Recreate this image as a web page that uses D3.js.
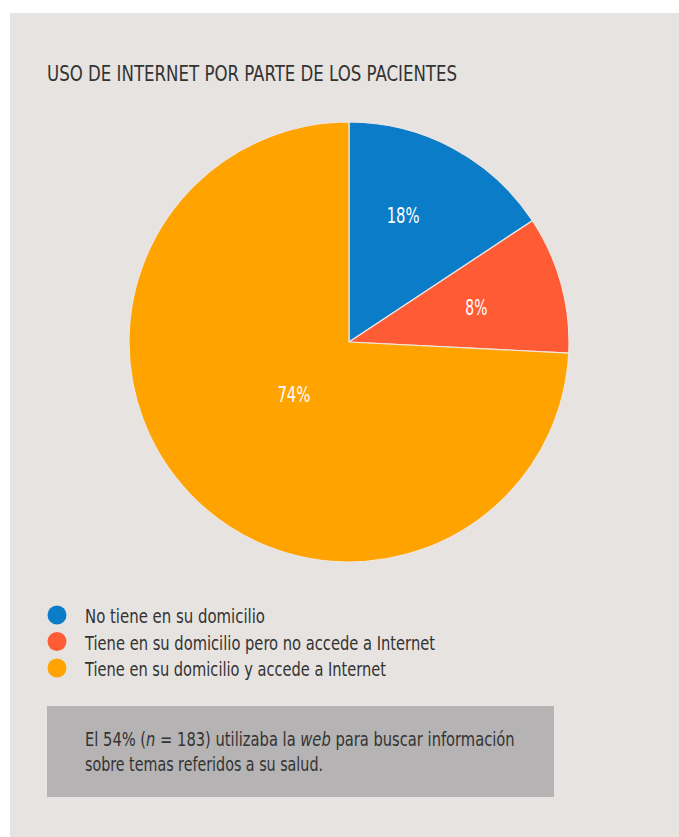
<!DOCTYPE html>
<html>
<head>
<meta charset="utf-8">
<script src="https://cdn.jsdelivr.net/npm/d3@7"></script>
<style>
  body { margin: 0; background: #fff; }
  svg text { font-family: "DejaVu Sans Condensed", "DejaVu Sans", sans-serif; font-stretch: condensed; }
</style>
</head>
<body>
<div id="chart"></div>
<script>
// Data
const categories = [
    "No tiene en su domicilio",
    "Tiene en su domicilio pero no accede a Internet",
    "Tiene en su domicilio y accede a Internet"
];
const shares = [15.7, 10.1, 74.2];          // slice sizes as drawn
const labels = ["18%", "8%", "74%"];         // printed percentages
const colors = ["#0b7dc8", "#ff5c35", "#ffa300"];

const W = 679, H = 837;
const svg = d3.select("#chart").append("svg")
    .attr("width", W)
    .attr("height", H);

// squeeze a text node to the width seen in the reference (narrow font)
function fit(sel, w) {
    sel.attr("textLength", w).attr("lengthAdjust", "spacingAndGlyphs");
}

// panel background
svg.append("rect")
    .attr("x", 10).attr("y", 13)
    .attr("width", W - 10).attr("height", H - 13)
    .attr("fill", "#e7e3e0");

// title
svg.append("text")
    .attr("x", 47).attr("y", 81)
    .attr("fill", "#333")
    .style("font-size", "21px")
    .text("USO DE INTERNET POR PARTE DE LOS PACIENTES")
    .call(fit, 410);

// pie
const cx = 349, cy = 342, r = 220;
const data = categories.map((c, i) => ({ name: c, value: shares[i], label: labels[i], color: colors[i] }));

const pie = d3.pie().sort(null).value(d => d.value);
const arc = d3.arc().innerRadius(0).outerRadius(r);

const g = svg.append("g").attr("transform", `translate(${cx},${cy})`);
const arcs = pie(data);

g.selectAll("path")
    .data(arcs)
    .enter()
    .append("path")
    .attr("d", arc)
    .attr("fill", d => d.data.color)
    .attr("stroke", "#eee6e2")
    .attr("stroke-width", 1.2);

// labels: small slices further out, the big slice nearer the centre
g.selectAll("text.lbl")
    .data(arcs)
    .enter()
    .append("text")
    .attr("class", "lbl")
    .attr("transform", d => {
        const lr = d.data.value > 50 ? 76 : (d.index === 0 ? 138 : 132);
        const a = (d.startAngle + d.endAngle) / 2 - (d.index === 0 ? 0.09 : 0);
        return `translate(${Math.sin(a) * lr},${-Math.cos(a) * lr})`;
    })
    .attr("text-anchor", "middle")
    .attr("dy", "0.35em")
    .attr("fill", "#fff")
    .style("font-size", "22px")
    .text(d => d.data.label)
    .each(function () { fit(d3.select(this), this.textContent.length * 11); });

// legend
const legendWidths = [180, 350, 301];
const legend = svg.append("g").attr("transform", "translate(57,615)");
const rows = legend.selectAll("g")
    .data(data)
    .enter()
    .append("g")
    .attr("transform", (d, i) => `translate(0,${i * 26.5})`);

rows.append("circle")
    .attr("r", 9.5)
    .attr("fill", d => d.color);

rows.append("text")
    .attr("x", 28)
    .attr("y", 8)
    .attr("fill", "#333")
    .style("font-size", "20px")
    .text(d => d.name)
    .each(function (d, i) { fit(d3.select(this), legendWidths[i]); });

// note box
svg.append("rect")
    .attr("x", 47).attr("y", 706)
    .attr("width", 507).attr("height", 91)
    .attr("fill", "#b5b3b3");

// first note line has italic runs, so squeeze it with a scale instead of textLength
const noteG = svg.append("g");
const note1 = noteG.append("text")
    .attr("fill", "#333")
    .style("font-size", "20px");
note1.append("tspan").text("El 54% (");
note1.append("tspan").style("font-style", "italic").text("n");
note1.append("tspan").text(" = 183) utilizaba la ");
note1.append("tspan").style("font-style", "italic").text("web");
note1.append("tspan").text(" para buscar información");
const sx = 430 / note1.node().getComputedTextLength();
noteG.attr("transform", `translate(85,746) scale(${sx},1)`);

svg.append("text")
    .attr("x", 85).attr("y", 771)
    .attr("fill", "#333")
    .style("font-size", "20px")
    .text("sobre temas referidos a su salud.")
    .call(fit, 238);
</script>
</body>
</html>
